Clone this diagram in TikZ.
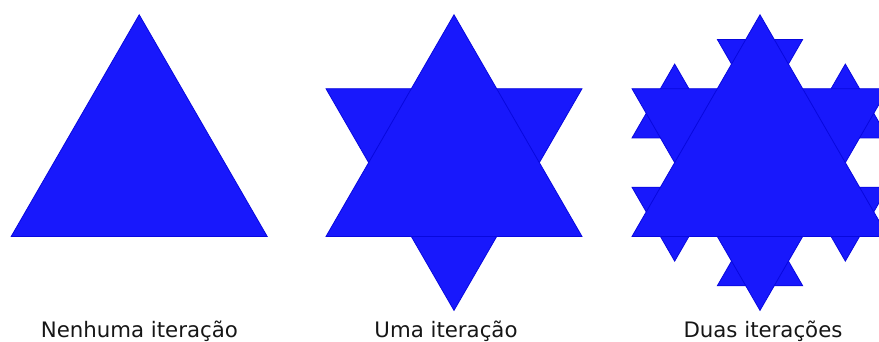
\documentclass[tikz,border=0pt]{standalone}
\usepackage{fontspec}
\setmainfont{DejaVu Sans}
\definecolor{kblue}{RGB}{24,24,252}
\definecolor{kedge}{RGB}{8,8,222}
\definecolor{ktext}{RGB}{22,22,22}
\begin{document}
\begin{tikzpicture}[x=1pt,y=1pt,
  tri/.style={fill=kblue,draw=kedge,line width=0.8pt,line join=miter},
  lbl/.style={anchor=base,font=\fontsize{21.3}{25}\selectfont,text=ktext,inner sep=0pt}]
\useasboundingbox (0,0) rectangle (879,342);
\clip (0,0) rectangle (879,342);
% no iteration
\begin{scope}[shift={(139.2,179.4)}]
  \path[tri] (90:147.8) -- (210:147.8) -- (330:147.8) -- cycle;
\end{scope}
% one iteration
\begin{scope}[shift={(454,179.4)}]
  \path[tri] (270:147.8) -- (30:147.8) -- (150:147.8) -- cycle;
  \path[tri] (90:147.8) -- (210:147.8) -- (330:147.8) -- cycle;
\end{scope}
% two iterations
\begin{scope}[shift={(760,179.4)}]
  \foreach \t in {30,90,...,330}{
    \begin{scope}[shift={(\t:98.53)}]
      \path[tri] ({\t+60}:49.27) -- ({\t+180}:49.27) -- ({\t-60}:49.27) -- cycle;
    \end{scope}
  }
  \path[tri] (270:147.8) -- (30:147.8) -- (150:147.8) -- cycle;
  \path[tri] (90:147.8) -- (210:147.8) -- (330:147.8) -- cycle;
\end{scope}
% labels
\node[lbl] (l0) at (139.4,4) {Nenhuma iteração};
\node[lbl] (l1) at (446,4) {Uma iteração};
\node[lbl] (l2) at (763,4) {Duas iterações};
\end{tikzpicture}
\end{document}
